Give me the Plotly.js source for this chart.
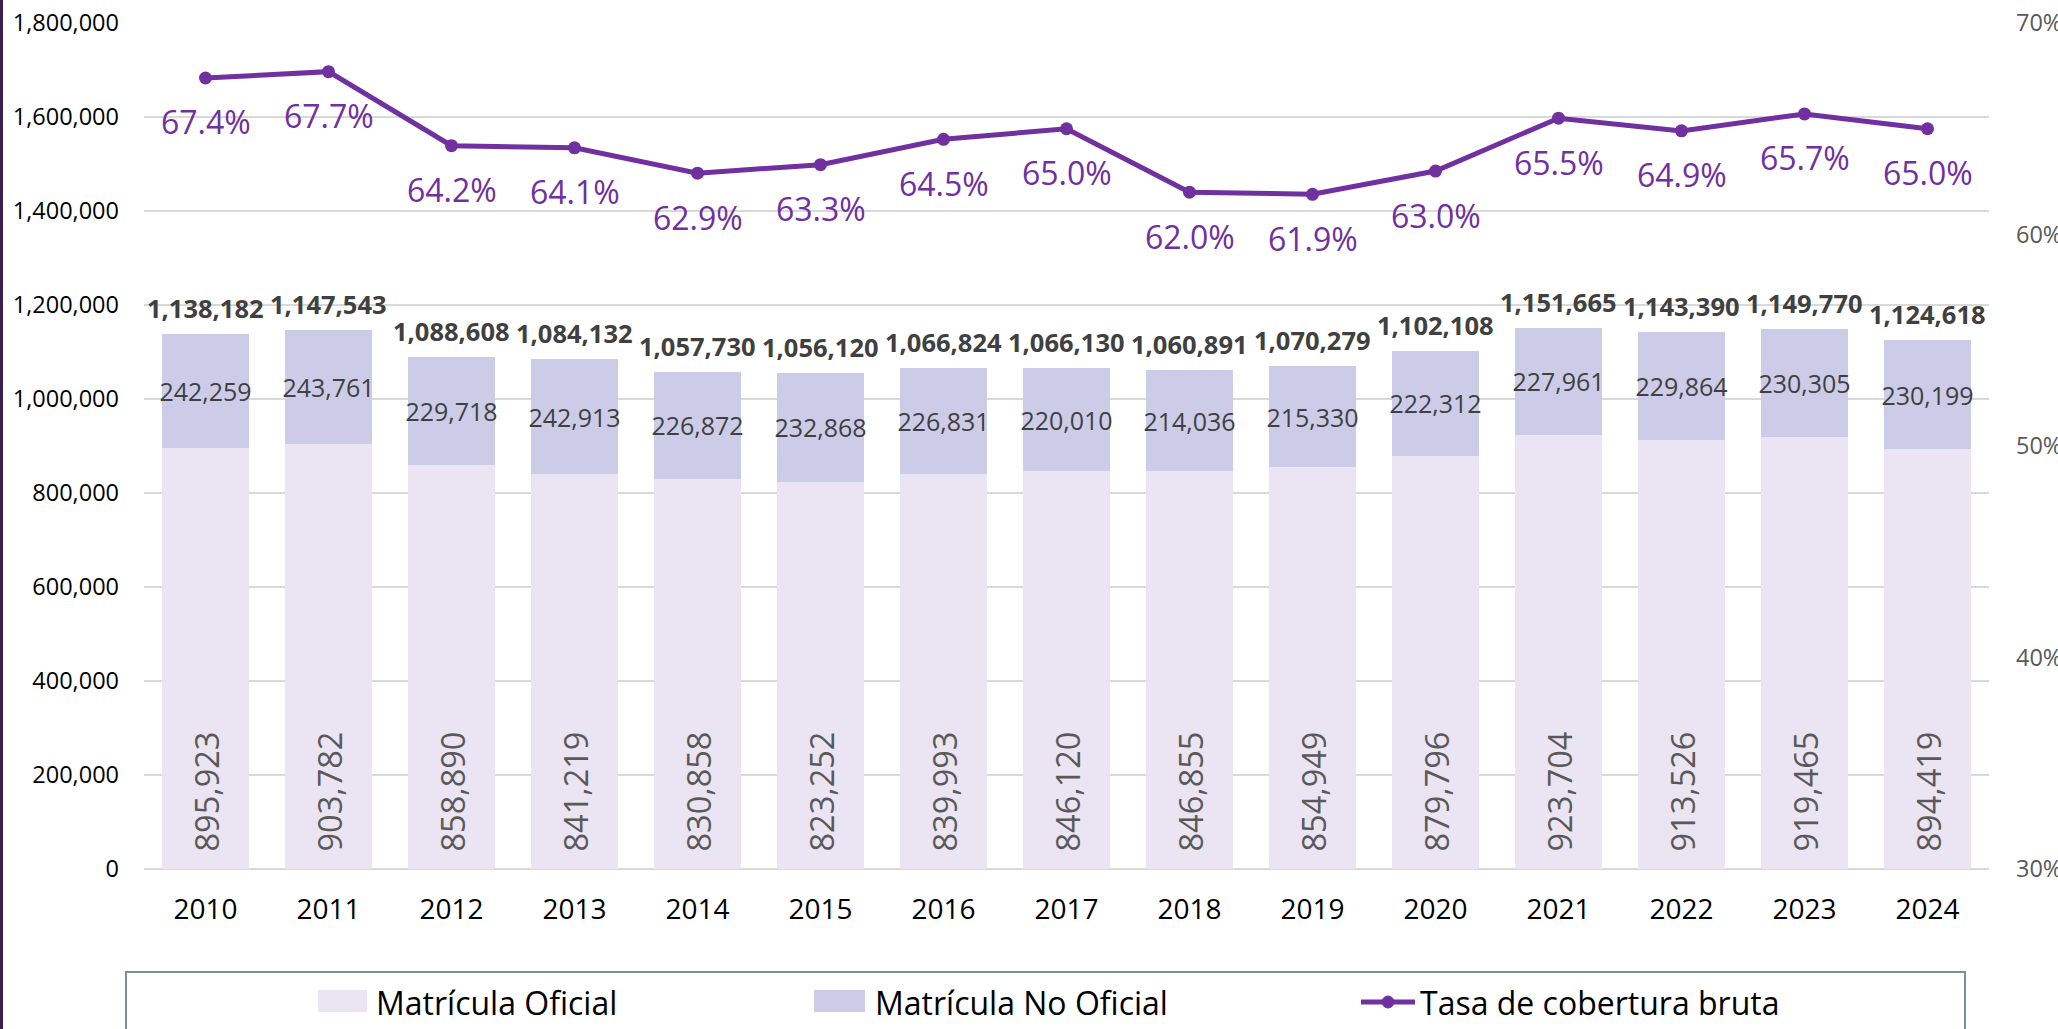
<!DOCTYPE html>
<html>
<head>
<meta charset="utf-8">
<script src="https://cdn.plot.ly/plotly-3.0.1.min.js"></script>
<style>
html,body{margin:0;padding:0;background:#fff;}
#chart{width:2058px;height:1029px;}
</style>
</head>
<body>
<div id="chart"></div>
<script>
const years = ['2010','2011','2012','2013','2014','2015','2016','2017','2018','2019','2020','2021','2022','2023','2024'];
const oficial = [895923, 903782, 858890, 841219, 830858, 823252, 839993, 846120, 846855, 854949, 879796, 923704, 913526, 919465, 894419];
const noOficial = [242259, 243761, 229718, 242913, 226872, 232868, 226831, 220010, 214036, 215330, 222312, 227961, 229864, 230305, 230199];
const totals = [1138182, 1147543, 1088608, 1084132, 1057730, 1056120, 1066824, 1066130, 1060891, 1070279, 1102108, 1151665, 1143390, 1149770, 1124618];
const tasa = [67.4, 67.7, 64.2, 64.1, 62.9, 63.3, 64.5, 65.0, 62.0, 61.9, 63.0, 65.5, 64.9, 65.7, 65.0];
const seriesNames = ['Matrícula Oficial', 'Matrícula No Oficial', 'Tasa de cobertura bruta'];

const FONT = 'Open Sans, Noto Sans, DejaVu Sans, sans-serif';
const cOf = '#EBE4F2', cNo = '#CCCCE8', cLine = '#7030A0';
const fmt = v => v.toLocaleString('en-US');

// plot area in pixels
const L = 144, R = 1989, T = 23, B = 869;
const W = R - L, H = B - T;
const PX = p => (p - L) / W;
const PY = p => (B - p) / H;

const traces = [
  {type:'bar', name:seriesNames[0], x:years, y:oficial, marker:{color:cOf}, hoverinfo:'skip'},
  {type:'bar', name:seriesNames[1], x:years, y:noOficial, marker:{color:cNo},
   text:noOficial.map(fmt), textposition:'inside', insidetextanchor:'middle', textangle:0,
   constraintext:'none', textfont:{family:FONT, size:25, color:'#404040'}, hoverinfo:'skip'},
  {type:'scatter', mode:'lines+markers', name:seriesNames[2], x:years, y:tasa, yaxis:'y2',
   line:{color:cLine, width:5}, marker:{color:cLine, size:13}, hoverinfo:'skip'}
];

const annotations = [];
years.forEach((yr, i) => {
  annotations.push({x:i, y:0, xref:'x', yref:'y', text:fmt(oficial[i]), showarrow:false, textangle:-90,
    xanchor:'center', yanchor:'middle', yshift:77, font:{family:FONT, size:32.5, color:'#595959'}});
  annotations.push({x:i, y:totals[i], xref:'x', yref:'y', text:fmt(totals[i]), showarrow:false,
    yanchor:'middle', yshift:26, font:{family:FONT, size:25.5, color:'#404040', weight:700}});
  annotations.push({x:i, y:tasa[i], xref:'x', yref:'y2', text:tasa[i].toFixed(1) + '%', showarrow:false,
    yanchor:'middle', yshift:-44, font:{family:FONT, size:32, color:cLine}});
});

// custom legend
const legY = 1002;
const legItems = [
  {sw:[318, 367], tx:374},
  {sw:[814, 865], tx:873},
  {sw:[1361, 1415], tx:1418}
];
legItems.forEach((it, i) => {
  annotations.push({xref:'paper', yref:'paper', x:PX(it.tx), y:PY(legY), xanchor:'left', yanchor:'middle',
    text:seriesNames[i], showarrow:false, font:{family:FONT, size:32, color:'#000'}});
});

const shapes = [
  {type:'rect', xref:'paper', yref:'paper', x0:PX(0), x1:PX(3), y0:PY(1029), y1:PY(0),
   fillcolor:'#3b1f4f', line:{width:0}},
  {type:'rect', xref:'paper', yref:'paper', x0:PX(126), x1:PX(1965), y0:PY(1040), y1:PY(972),
   fillcolor:'rgba(0,0,0,0)', line:{color:'#7E9094', width:2}},
  {type:'rect', xref:'paper', yref:'paper', x0:PX(legItems[0].sw[0]), x1:PX(legItems[0].sw[1]), y0:PY(1012), y1:PY(990),
   fillcolor:cOf, line:{width:0}},
  {type:'rect', xref:'paper', yref:'paper', x0:PX(legItems[1].sw[0]), x1:PX(legItems[1].sw[1]), y0:PY(1012), y1:PY(990),
   fillcolor:cNo, line:{width:0}},
  {type:'line', xref:'paper', yref:'paper', x0:PX(legItems[2].sw[0]), x1:PX(legItems[2].sw[1]), y0:PY(legY), y1:PY(legY),
   line:{color:cLine, width:5}},
  {type:'circle', xref:'paper', yref:'paper', x0:PX(1382), x1:PX(1394), y0:PY(legY+6), y1:PY(legY-6),
   fillcolor:cLine, line:{color:cLine, width:1}}
];

const layout = {
  width:2058, height:1029,
  margin:{l:L, r:2058 - R, t:T, b:1029 - B, pad:0},
  paper_bgcolor:'#fff', plot_bgcolor:'#fff',
  barmode:'stack', bargap:0.293,
  showlegend:false,
  font:{family:FONT},
  xaxis:{type:'category', range:[-0.5, years.length - 0.5], autorange:false,
         tickfont:{family:FONT, size:28, color:'#000'}, ticks:'', ticklabelstandoff:21,
         showgrid:false, showline:false, zeroline:false, fixedrange:true},
  yaxis:{range:[0, 1800000], autorange:false, dtick:200000, tickformat:',', tickfont:{family:FONT, size:23.5, color:'#000'},
         ticks:'', ticklabelstandoff:24, showgrid:true, gridcolor:'#D9D9D9', gridwidth:1.5,
         zeroline:true, zerolinecolor:'#D9D9D9', zerolinewidth:1.5, showline:false, fixedrange:true},
  yaxis2:{overlaying:'y', side:'right', range:[30, 70], autorange:false, dtick:10, ticksuffix:'%',
          tickfont:{family:FONT, size:23.5, color:'#595959'}, ticks:'', ticklabelstandoff:26,
          showgrid:false, zeroline:false, showline:false, fixedrange:true},
  annotations:annotations,
  shapes:shapes,
  hovermode:false
};

Plotly.newPlot('chart', traces, layout, {displayModeBar:false, staticPlot:true});
</script>
</body>
</html>
